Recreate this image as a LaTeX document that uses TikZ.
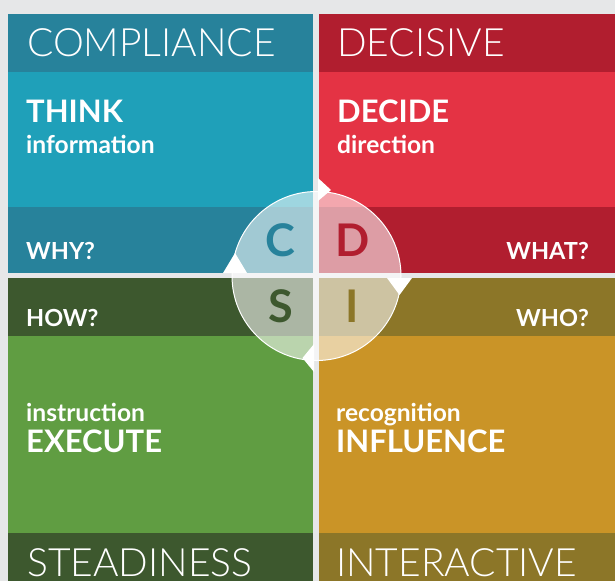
\documentclass[tikz,border=0pt]{standalone}
\usepackage{fontspec}
\setmainfont{Lato}
\newfontfamily\lightfont{Lato Light}
\definecolor{bggray}{RGB}{230,231,232}
\definecolor{compdark}{RGB}{39,130,155}
\definecolor{complight}{RGB}{31,160,185}
\definecolor{decdark}{RGB}{177,30,47}
\definecolor{declight}{RGB}{228,51,68}
\definecolor{stedark}{RGB}{61,88,46}
\definecolor{stelight}{RGB}{96,157,66}
\definecolor{intdark}{RGB}{140,118,40}
\definecolor{intlight}{RGB}{202,148,39}
\begin{document}
\begin{tikzpicture}[x=1pt,y=-1pt,
  hdr/.style={text=white, inner sep=0pt, anchor=base west, font=\lightfont\fontsize{39}{39}\selectfont},
  big/.style={text=white, inner sep=0pt, anchor=base west, font=\bfseries\fontsize{31}{31}\selectfont},
  small/.style={text=white, inner sep=0pt, anchor=base west, font=\bfseries\fontsize{24.6}{24.6}\selectfont},
  ask/.style={text=white, inner sep=0pt, font=\bfseries\fontsize{23.5}{23.5}\selectfont},
  letter/.style={inner sep=0pt, anchor=base, font=\bfseries\fontsize{45}{45}\selectfont},
  pointer/.style={fill=white}]
\useasboundingbox (0,0) rectangle (615,581);
\fill[bggray] (0,0) rectangle (615,581);
% top-left: compliance
\fill[compdark] (8,14) rectangle (313,72);
\fill[complight] (8,72) rectangle (313,207);
\fill[compdark] (8,207) rectangle (313,273);
% top-right: decisive
\fill[decdark] (319,14) rectangle (615,72);
\fill[declight] (319,72) rectangle (615,207);
\fill[decdark] (319,207) rectangle (615,273);
% bottom-left: steadiness
\fill[stedark] (8,278) rectangle (313,336);
\fill[stelight] (8,336) rectangle (313,533);
\fill[stedark] (8,533) rectangle (313,581);
% bottom-right: interactive
\fill[intdark] (319,278) rectangle (615,336);
\fill[intlight] (319,336) rectangle (615,533);
\fill[intdark] (319,533) rectangle (615,581);
% texts
\node[hdr] (compl) at (27,56.5) {COMPLIANCE};
\node[hdr] (decis) at (337,56.5) {DECISIVE};
\node[hdr] (stead) at (27,576.5) {STEADINESS};
\node[hdr] (inter) at (336,576.5) {INTERACTIVE};
\node[big] (think) at (26,122) {THINK};
\node[small] (info) at (26,153) {information};
\node[big] (decide) at (337,122) {DECIDE};
\node[small] (direc) at (337,153) {direction};
\node[small] (instr) at (26,421) {instruction};
\node[big] (exec) at (26,452) {EXECUTE};
\node[small] (recog) at (336,421) {recognition};
\node[big] (influ) at (336,452) {INFLUENCE};
\node[ask, anchor=base west] (why) at (26,259) {WHY?};
\node[ask, anchor=base east] (what) at (589,259) {WHAT?};
\node[ask, anchor=base west] (how) at (26,326) {HOW?};
\node[ask, anchor=base east] (who) at (589,326) {WHO?};
% centre disc
\node[circle, minimum size=169pt, inner sep=0pt, fill=white, fill opacity=0.57,
      draw=white, draw opacity=1, line width=1pt] (disc) at (316.5,276) {};
\node[letter, text=compdark] (lc) at (280.5,256.5) {C};
\node[letter, text=decdark] (ld) at (353,256.5) {D};
\node[letter, text=stedark] (ls) at (280.5,322.5) {S};
\node[letter, text=intdark] (li) at (352.5,322.5) {I};
% pointers on the disc
\fill[pointer] (318,178) -- (331,190) -- (318,201) -- cycle;
\fill[pointer] (223,273) -- (235,253) -- (247,273) -- cycle;
\fill[pointer] (387,278) -- (412,278) -- (399.5,295) -- cycle;
\fill[pointer] (314,344) -- (314,372) -- (302.5,358) -- cycle;
\end{tikzpicture}
\end{document}
